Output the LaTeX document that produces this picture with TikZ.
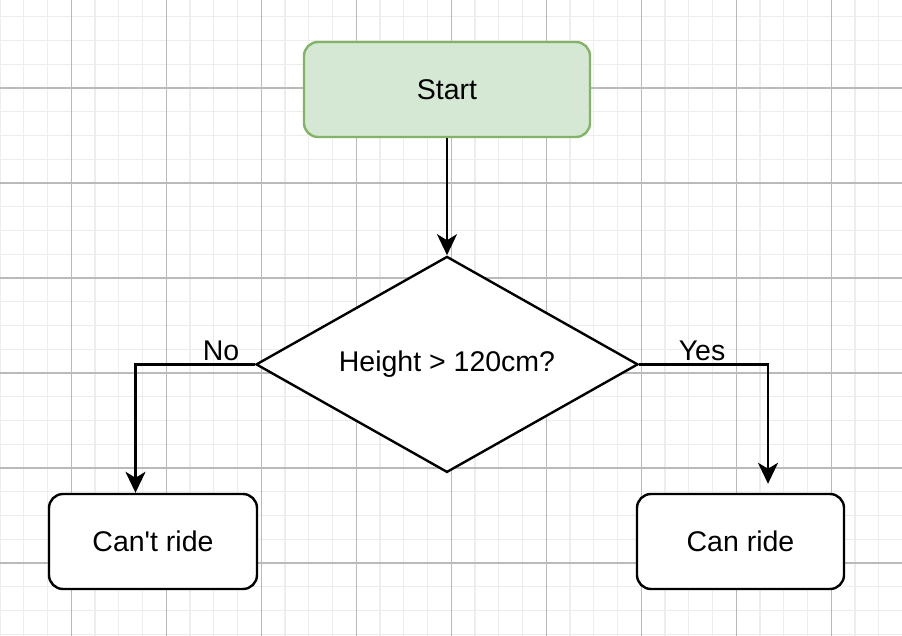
\documentclass[tikz,border=0pt]{standalone}
\usepackage{fontspec}
\setmainfont{Liberation Sans}
\usetikzlibrary{shapes.geometric,arrows.meta,positioning}
\definecolor{startfill}{HTML}{D5E8D4}
\definecolor{startline}{HTML}{82B366}

\begin{document}
\begin{tikzpicture}[
  x=1pt, y=-1pt,
  font=\fontsize{28.5}{34}\selectfont,
  >={Stealth[length=21pt, width=20pt, inset=6pt]},
  node distance = 117pt,
  minor/.style    = {draw=black!7, line width=1.4pt},
  major/.style    = {draw=black!27, line width=1.2pt},
  box/.style      = {draw, rounded corners=14pt, line width=2.4pt,
                     align=center, minimum height=95pt, inner sep=0pt},
  startbox/.style = {box, draw=startline, fill=startfill, minimum width=286pt},
  endbox/.style   = {box, fill=white, minimum width=208pt},
  decision/.style = {diamond, aspect=1.784, draw, line width=2.4pt, fill=white,
                     inner sep=0pt, minimum width=382pt, minimum height=216pt},
  link/.style     = {->, line width=2.6pt},
  lbl/.style      = {inner sep=0pt}
]
\useasboundingbox (0,0) rectangle (902,636);
\fill[white] (0,0) rectangle (902,636);

\foreach \k in {0,...,38} \draw[minor] (\k*23.75,0) -- (\k*23.75,636);
\foreach \k in {0,...,27} \draw[minor] (0,-7+\k*23.75) -- (902,-7+\k*23.75);
\foreach \k in {0,...,8}  \draw[major] (71.25+\k*95,0) -- (71.25+\k*95,636);
\foreach \k in {0,...,5}  \draw[major] (0,88+\k*95) -- (902,88+\k*95);

\node[startbox] (start) at (447,89.5) {Start};
\node[decision, below=of start] (cond) {Height > 120cm?};
\node[endbox] (cant) at (153,541.5) {Can\textquotesingle t ride};
\node[endbox, minimum width=207pt] (can) at (740.5,541.5) {Can ride};

\node[lbl] (no)  at (221,350.5) {No};
\node[lbl] (yes) at (702,350.5) {Yes};

\draw[link] (start) -- (cond);
\draw[link] (cond.west) -| ([xshift=-17.5pt]cant.north);
\draw[link] (cond.east) -| ([xshift=27.5pt, yshift=9pt]can.north);

\end{tikzpicture}
\end{document}
